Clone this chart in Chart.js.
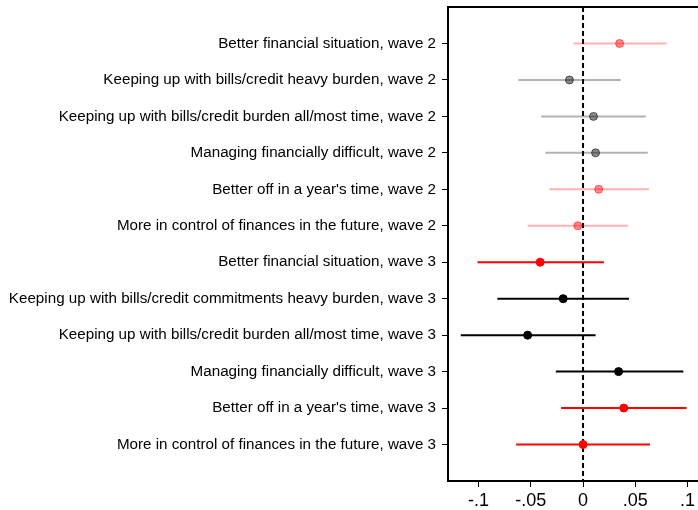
<!DOCTYPE html>
<html>
<head>
<meta charset="utf-8">
<script src="https://cdn.jsdelivr.net/npm/chart.js@4/dist/chart.umd.min.js"></script>
<style>
  html, body { margin: 0; padding: 0; background: #fff; overflow: hidden; }
  #wrap { width: 698px; height: 510px; }
</style>
</head>
<body>
<div id="wrap"><canvas id="c"></canvas></div>
<script>
// Outcome rows, top to bottom
const rowLabels = [
  'Better financial situation, wave 2',
  'Keeping up with bills/credit heavy burden, wave 2',
  'Keeping up with bills/credit burden all/most time, wave 2',
  'Managing financially difficult, wave 2',
  "Better off in a year's time, wave 2",
  'More in control of finances in the future, wave 2',
  'Better financial situation, wave 3',
  'Keeping up with bills/credit commitments heavy burden, wave 3',
  'Keeping up with bills/credit burden all/most time, wave 3',
  'Managing financially difficult, wave 3',
  "Better off in a year's time, wave 3",
  'More in control of finances in the future, wave 3'
];
// Point estimates and 95% confidence bounds
const estimates = [0.035, -0.013, 0.010, 0.012, 0.015, -0.005, -0.041, -0.019, -0.053, 0.034, 0.039, 0.000];
const lower     = [-0.009, -0.062, -0.040, -0.036, -0.032, -0.053, -0.101, -0.082, -0.117, -0.026, -0.021, -0.064];
const upper     = [0.080, 0.036, 0.060, 0.062, 0.063, 0.043, 0.020, 0.044, 0.012, 0.096, 0.099, 0.064];
// Group of each row: wave and marker colour family
const rowWave   = [2, 2, 2, 2, 2, 2, 3, 3, 3, 3, 3, 3];
const rowHue    = ['red', 'black', 'black', 'black', 'red', 'red', 'red', 'black', 'black', 'black', 'red', 'red'];
// X axis tick values and labels
const xTickValues = [-0.1, -0.05, 0, 0.05, 0.1];
const xTickLabels = ['-.1', '-.05', '0', '.05', '.1'];

const palette = {
  '2red':   { line: 'rgba(255,0,0,0.30)', point: 'rgba(255,0,0,0.45)', edge: 'rgba(255,0,0,0.55)' },
  '2black': { line: 'rgba(0,0,0,0.30)',   point: 'rgba(0,0,0,0.45)',   edge: 'rgba(0,0,0,0.55)' },
  '3red':   { line: '#ff0000', point: '#ff0000', edge: '#ff0000' },
  '3black': { line: '#000000', point: '#000000', edge: '#000000' }
};

const datasets = [];
// zero reference line
datasets.push({
  data: [{ x: 0, y: 0 }, { x: 0, y: 13 }],
  showLine: true, borderColor: '#000', borderWidth: 2, borderDash: [5, 3],
  pointRadius: 0, order: 10
});
Object.keys(palette).forEach(key => {
  const rows = rowLabels.map((_, i) => i).filter(i => (rowWave[i] + rowHue[i]) === key);
  const ci = [];
  rows.forEach(i => {
    ci.push({ x: lower[i], y: i + 1 }, { x: upper[i], y: i + 1 }, { x: null, y: null });
  });
  datasets.push({
    data: ci, showLine: true, spanGaps: false,
    borderColor: palette[key].line, borderWidth: 2, pointRadius: 0, order: 5
  });
  datasets.push({
    data: rows.map(i => ({ x: estimates[i], y: i + 1 })),
    showLine: false, pointRadius: 4, pointBorderWidth: 1,
    backgroundColor: palette[key].point, borderColor: palette[key].edge, order: 1
  });
});

const topBorder = {
  id: 'topBorder',
  afterDraw(chart) {
    const { ctx, chartArea } = chart;
    ctx.save();
    ctx.strokeStyle = '#000';
    ctx.lineWidth = 2;
    ctx.beginPath();
    ctx.moveTo(chartArea.left - 1, chartArea.top);
    ctx.lineTo(chart.width, chartArea.top);
    ctx.stroke();
    ctx.restore();
  }
};

new Chart(document.getElementById('c'), {
  type: 'scatter',
  data: { datasets },
  plugins: [topBorder],
  options: {
    responsive: true,
    maintainAspectRatio: false,
    animation: false,
    layout: { autoPadding: false, padding: { top: 7, right: 0, left: 0, bottom: 0 } },
    plugins: { legend: { display: false }, tooltip: { enabled: false } },
    scales: {
      x: {
        type: 'linear', min: -0.1292, max: 0.1100,
        afterBuildTicks: s => { s.ticks = xTickValues.map(v => ({ value: v })); },
        afterFit: s => { s.height = 29; s.paddingLeft = 0; s.paddingRight = 0; },
        ticks: {
          autoSkip: false, color: '#000', padding: 3, maxRotation: 0,
          font: { family: 'Liberation Sans, Arial, sans-serif', size: 18 },
          callback: v => xTickLabels[xTickValues.indexOf(v)]
        },
        grid: { drawOnChartArea: false, tickLength: 6, color: '#000', tickWidth: 1 },
        border: { color: '#000', width: 2 }
      },
      y: {
        type: 'linear', min: 0, max: 13, reverse: true,
        afterBuildTicks: s => { s.ticks = rowLabels.map((_, i) => ({ value: i + 1 })); },
        afterFit: s => { s.width = 448; s.paddingTop = 0; s.paddingBottom = 0; },
        ticks: {
          autoSkip: false, color: '#000', padding: 6,
          font: { family: 'Liberation Sans, Arial, sans-serif', size: 15.2 },
          callback: v => rowLabels[v - 1]
        },
        grid: { drawOnChartArea: false, tickLength: 6, color: '#000', tickWidth: 1 },
        border: { color: '#000', width: 2 }
      }
    }
  }
});
</script>
</body>
</html>
